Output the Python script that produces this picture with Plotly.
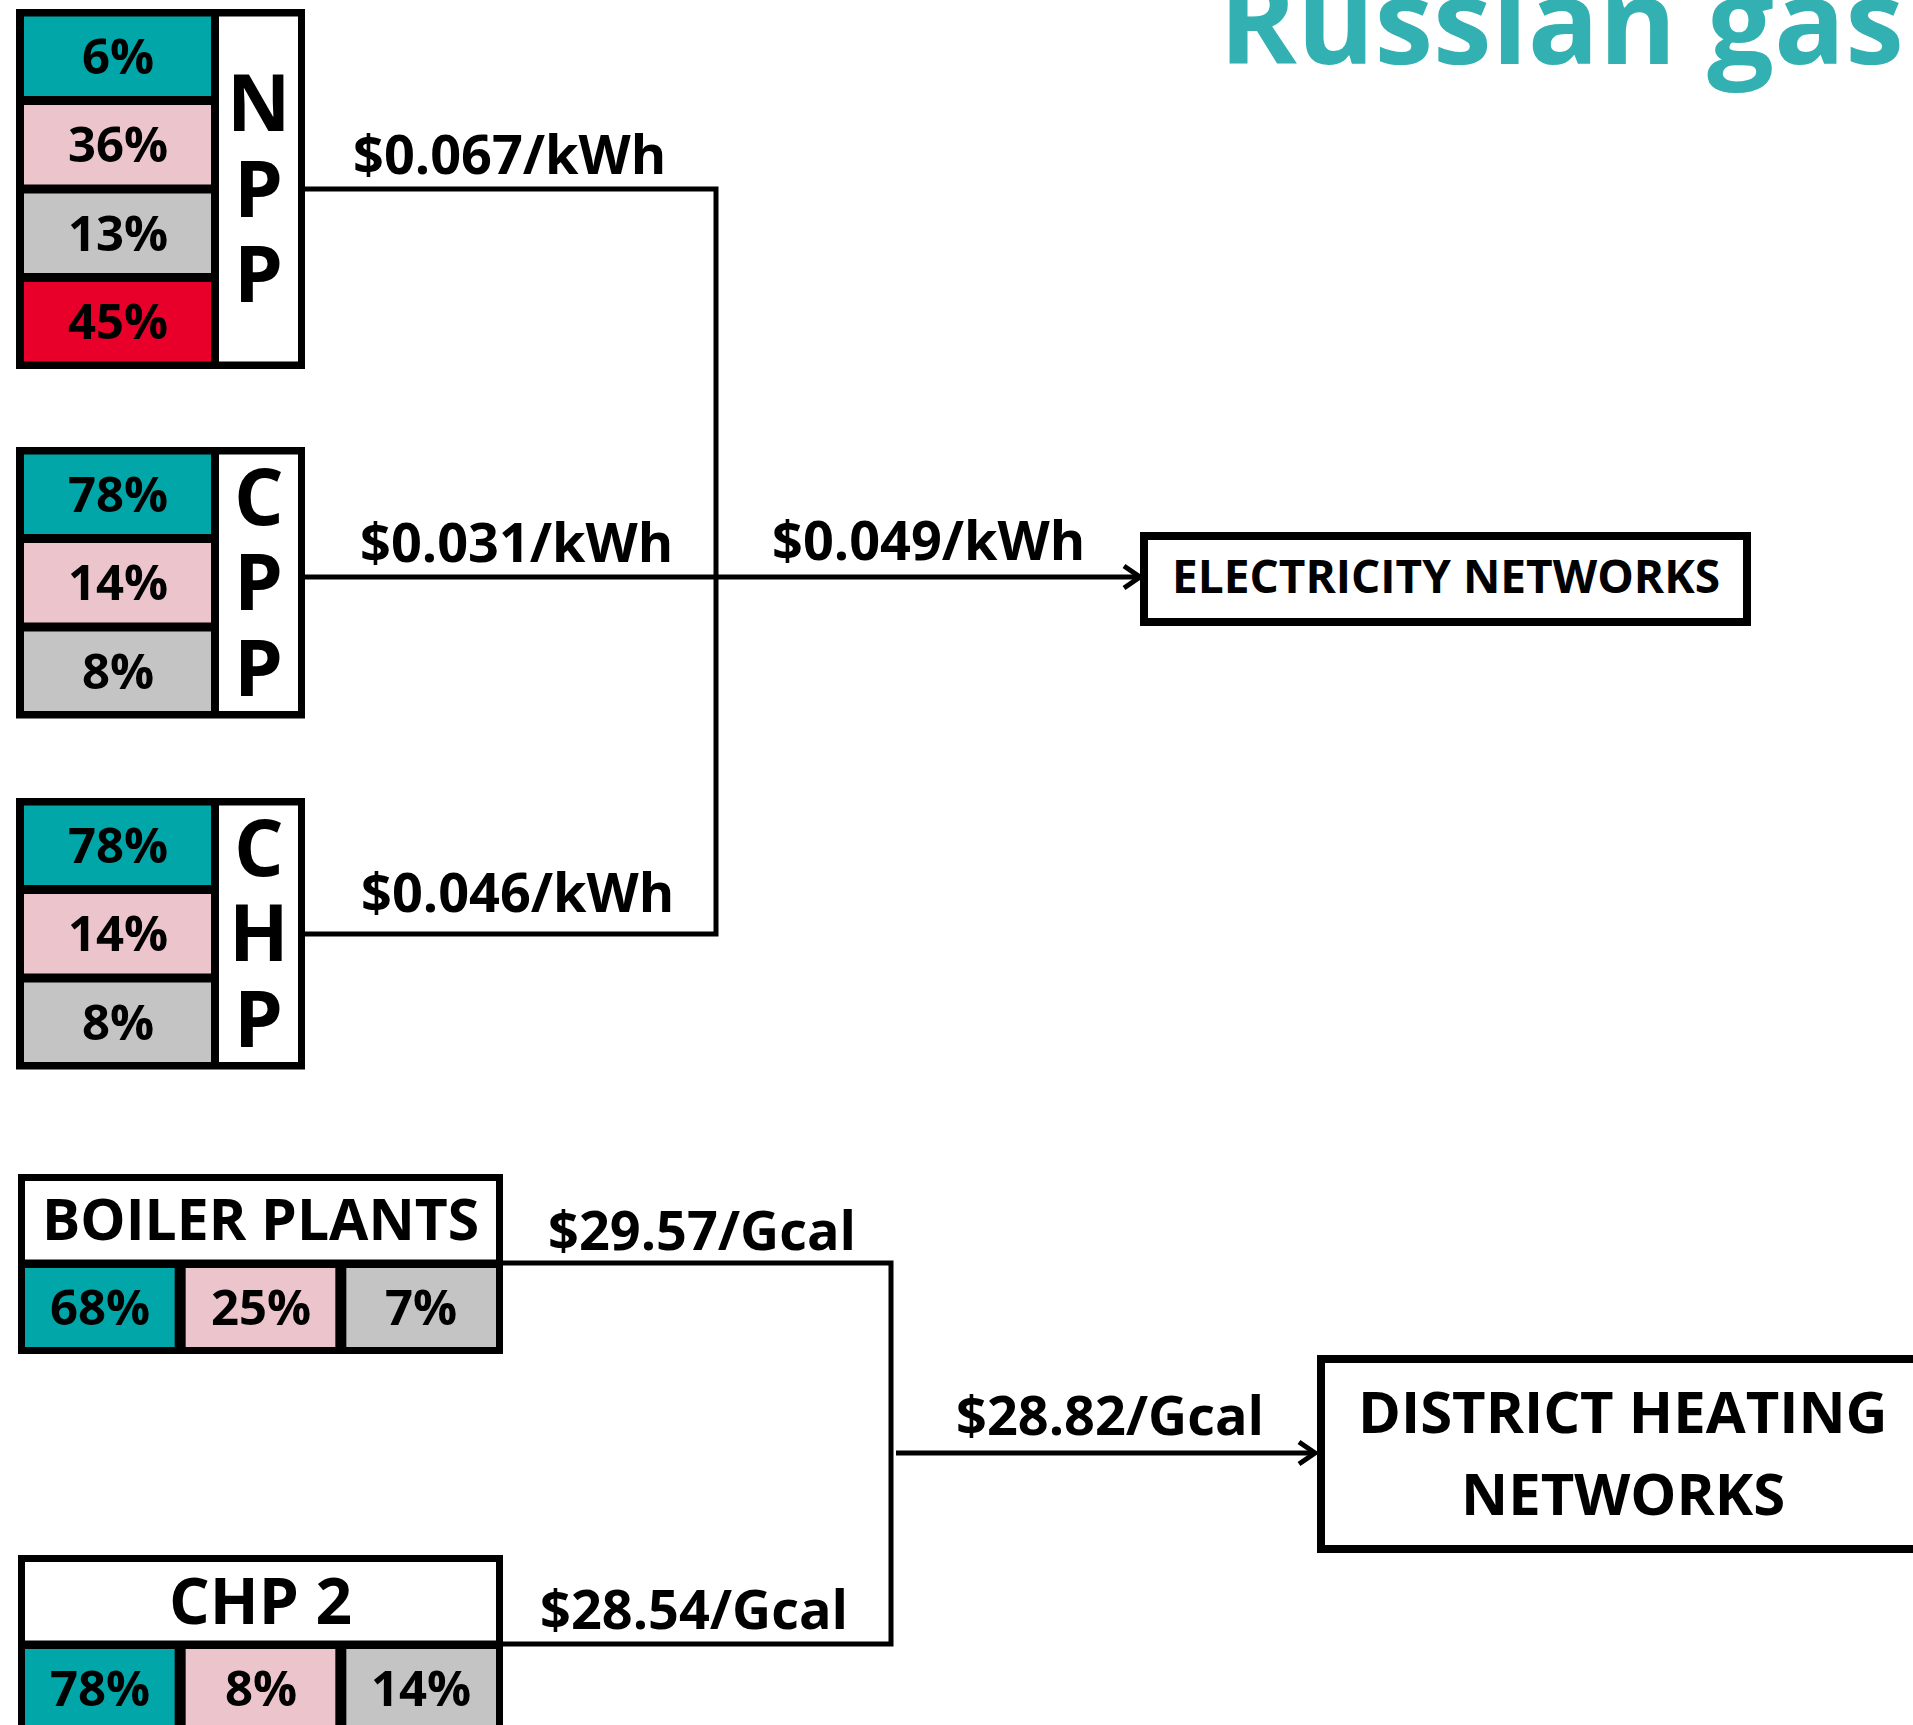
import plotly.graph_objects as go

# ---------------- data ----------------
elec_plants = ["NPP", "CPP", "CHP"]
npp_shares = [6, 36, 13, 45]
cpp_shares = [78, 14, 8]
chp_shares = [78, 14, 8]
elec_prices = [0.067, 0.031, 0.046]   # $/kWh
elec_avg_price = 0.049
elec_target = "ELECTRICITY NETWORKS"

heat_plants = ["BOILER PLANTS", "CHP 2"]
boiler_shares = [68, 25, 7]
chp2_shares = [78, 8, 14]
heat_prices = [29.57, 28.54]          # $/Gcal
heat_avg_price = 28.82
heat_target = ["DISTRICT HEATING", "NETWORKS"]

title_text = "Russian gas"

# ---------------- styles / geometry ----------------
W, H = 1913, 1725
FONT = "Open Sans"
TITLE_COLOR = "#33b0b1"
CELL_COLORS = ["#00a6a8", "#ecc4cb", "#c4c4c4", "#e8002a"]
BLACK = "#000000"

shapes = []
annotations = []


def rect(x0, y0, x1, y1, fill):
    shapes.append(dict(type="rect", xref="x", yref="y", x0=x0, y0=y0, x1=x1, y1=y1,
                       fillcolor=fill, line=dict(width=0), layer="above"))


def outline_box(x0, y0, x1, y1, lw):
    shapes.append(dict(type="rect", xref="x", yref="y",
                       x0=x0 + lw / 2, y0=y0 + lw / 2, x1=x1 - lw / 2, y1=y1 - lw / 2,
                       fillcolor="white", line=dict(width=lw, color=BLACK), layer="above"))


def path(pts, w=5):
    d = "M " + " L ".join(f"{x},{y}" for x, y in pts)
    shapes.append(dict(type="path", xref="x", yref="y", path=d,
                       line=dict(width=w, color=BLACK), fillcolor="rgba(0,0,0,0)",
                       layer="above"))


def text(x, baseline, s, size, color=BLACK, xanchor="center"):
    annotations.append(dict(x=x, y=baseline - 0.388 * size, xref="x", yref="y", text=s,
                            showarrow=False, xanchor=xanchor, yanchor="middle",
                            borderpad=0,
                            font=dict(family=FONT, size=size, color=color, weight=700)))


# ---------------- electricity blocks ----------------
elec_shares = [npp_shares, cpp_shares, chp_shares]
blk_top = [9, 447, 798]
line_y = [189, 577, 934]
OX0, OX1 = 16, 305
CX0, CX1 = 24, 211
LX0, LX1 = 219, 298
BORDER, CELL_H, GAP = 7.5, 79.5, 9
PCT_SIZE = 49
LETTER_SIZE = 78

for name, shares, top in zip(elec_plants, elec_shares, blk_top):
    n = len(shares)
    bottom = top + 2 * BORDER + n * CELL_H + (n - 1) * GAP
    rect(OX0, top, OX1, bottom, BLACK)
    rect(LX0, top + BORDER, LX1, bottom - BORDER, "white")
    for k, v in enumerate(shares):
        cy0 = top + BORDER + k * (CELL_H + GAP)
        rect(CX0, cy0, CX1, cy0 + CELL_H, CELL_COLORS[k])
        text((CX0 + CX1) / 2, cy0 + CELL_H / 2 + 0.357 * PCT_SIZE, f"{v}%", PCT_SIZE)
    mid = (top + bottom) / 2
    for j, ch in enumerate(name):
        text((LX0 + LX1) / 2, mid + (j - 1) * 85.5 + 0.357 * LETTER_SIZE, ch, LETTER_SIZE)

# connectors
VX = 716
path([(OX1, line_y[0]), (VX, line_y[0]), (VX, line_y[2]), (OX1, line_y[2])])
path([(OX1, line_y[1]), (1137, line_y[1])])
path([(1124, line_y[1] - 11), (1140, line_y[1]), (1124, line_y[1] + 11)])

PRICE_SIZE = 54
elec_label_x = [509, 516, 517]
elec_label_base = [174, 562, 912]
for p, x, b in zip(elec_prices, elec_label_x, elec_label_base):
    text(x, b, f"${p:.3f}/kWh", PRICE_SIZE)
text(928, 560, f"${elec_avg_price:.3f}/kWh", PRICE_SIZE)

outline_box(1140, 532, 1751, 626, 8)
text(1446, 593, elec_target, 46)

# ---------------- heat blocks ----------------
heat_shares = [boiler_shares, chp2_shares]
hblk_top = [1174, 1555]
head_sizes = [57, 64]
HX0, HX1 = 18, 503
HB, HEAD_H, HGAP, HCELL_H = 7, 78.5, 8.5, 79
IX0, IX1 = 25, 496
CGAP = 11

for name, shares, top, hs in zip(heat_plants, heat_shares, hblk_top, head_sizes):
    n = len(shares)
    bottom = top + 2 * HB + HEAD_H + HGAP + HCELL_H
    rect(HX0, top, HX1, bottom, BLACK)
    rect(IX0, top + HB, IX1, top + HB + HEAD_H, "white")
    text((IX0 + IX1) / 2, top + HB + HEAD_H / 2 + 0.357 * hs, name, hs)
    cw = (IX1 - IX0 - (n - 1) * CGAP) / n
    cy0 = top + HB + HEAD_H + HGAP
    for k, v in enumerate(shares):
        cx0 = IX0 + k * (cw + CGAP)
        rect(cx0, cy0, cx0 + cw, cy0 + HCELL_H, CELL_COLORS[k])
        text(cx0 + cw / 2, cy0 + HCELL_H / 2 + 0.357 * PCT_SIZE, f"{v}%", PCT_SIZE)

HVX = 891
heat_line_y = [1263, 1644]
path([(HX1, heat_line_y[0]), (HVX, heat_line_y[0]), (HVX, heat_line_y[1]), (HX1, heat_line_y[1])])
path([(896, 1453), (1313, 1453)])
path([(1299, 1442), (1315, 1453), (1299, 1464)])

heat_label_x = [702, 694]
heat_label_base = [1250, 1629]
for p, x, b in zip(heat_prices, heat_label_x, heat_label_base):
    text(x, b, f"${p:.2f}/Gcal", PRICE_SIZE)
text(1110, 1435, f"${heat_avg_price:.2f}/Gcal", PRICE_SIZE)

outline_box(1317, 1355, 1945, 1553, 8)
for s, b in zip(heat_target, [1433, 1515]):
    text(1623, b, s, 58)

# ---------------- title ----------------
text(1905, 64, title_text, 118, color=TITLE_COLOR, xanchor="right")

fig = go.Figure()
fig.update_layout(
    width=W, height=H,
    margin=dict(l=0, r=0, t=0, b=0),
    paper_bgcolor="white", plot_bgcolor="white",
    xaxis=dict(range=[0, W], visible=False, fixedrange=True),
    yaxis=dict(range=[H, 0], visible=False, fixedrange=True),
    shapes=shapes,
    annotations=annotations,
    showlegend=False,
)
fig.write_html("out.html", config={"displayModeBar": False},
               post_script="document.body.style.margin='0px';")
